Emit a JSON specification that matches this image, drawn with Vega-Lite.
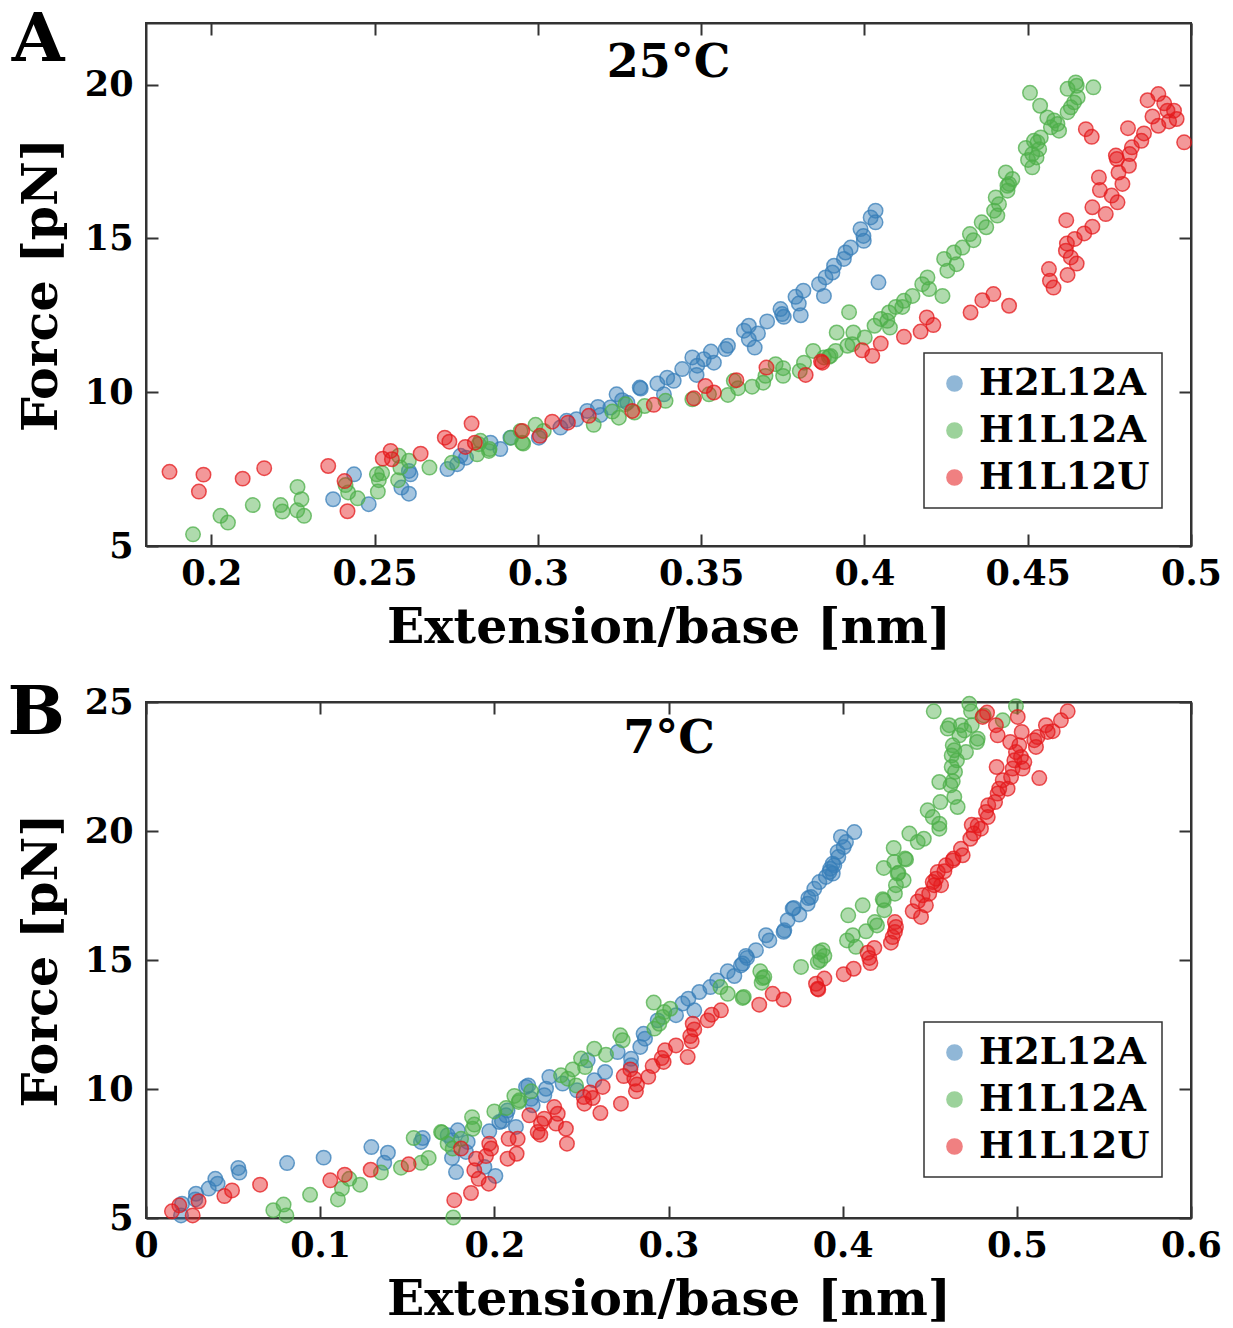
{
"$schema": "https://vega.github.io/schema/vega-lite/v6.json",
"background": "white",
"padding": {"left": 6, "top": 5, "right": 5, "bottom": 5},
"config": {
  "font": "DejaVu Serif",
  "view": {"stroke": "#333", "strokeWidth": 2},
  "axis": {"labelFont": "DejaVu Serif", "labelFontWeight": "bold", "labelFontSize": 35, "labelColor": "#000",
           "titleFont": "DejaVu Serif", "titleFontWeight": "bold", "titleFontSize": 49, "titleColor": "#000",
           "domainColor": "#333", "domainWidth": 2, "tickColor": "#333", "tickWidth": 2, "tickSize": -12,
           "grid": false, "labelFlush": false},
  "axisX": {"labelPadding": 22, "titlePadding": 12},
  "axisY": {"labelPadding": 25, "titlePadding": 18},
  "legend": {"labelFont": "DejaVu Serif", "labelFontWeight": "bold", "labelFontSize": 37, "labelColor": "#000", "labelLimit": 400,
             "strokeColor": "#333", "strokeWidth": 1.5, "fillColor": "white", "padding": 12, "rowPadding": 9,
             "symbolSize": 230, "symbolType": "circle", "symbolStrokeWidth": 1.5, "labelOffset": 6, "symbolOpacity": 0.55},
  "concat": {"spacing": 26}
},
"datasets": {
"a": [
{"s":"H2L12A","x":0.2373,"f":6.52},{"s":"H2L12A","x":0.2437,"f":7.33},{"s":"H2L12A","x":0.2482,"f":6.36},{"s":"H2L12A","x":0.2582,"f":6.90},{"s":"H2L12A","x":0.2605,"f":6.70},{"s":"H2L12A","x":0.2605,"f":7.44},{"s":"H2L12A","x":0.2610,"f":7.33},{"s":"H2L12A","x":0.2723,"f":7.50},{"s":"H2L12A","x":0.2753,"f":7.66},{"s":"H2L12A","x":0.2763,"f":7.93},{"s":"H2L12A","x":0.2780,"f":7.87},{"s":"H2L12A","x":0.2855,"f":8.36},{"s":"H2L12A","x":0.2885,"f":8.15},{"s":"H2L12A","x":0.2916,"f":8.52},{"s":"H2L12A","x":0.3003,"f":8.52},{"s":"H2L12A","x":0.3069,"f":8.85},{"s":"H2L12A","x":0.3088,"f":9.07},{"s":"H2L12A","x":0.3118,"f":9.12},{"s":"H2L12A","x":0.3151,"f":9.39},{"s":"H2L12A","x":0.3184,"f":9.52},{"s":"H2L12A","x":0.3192,"f":9.26},{"s":"H2L12A","x":0.3222,"f":9.50},{"s":"H2L12A","x":0.3241,"f":9.93},{"s":"H2L12A","x":0.3258,"f":9.74},{"s":"H2L12A","x":0.3274,"f":9.66},{"s":"H2L12A","x":0.3312,"f":10.15},{"s":"H2L12A","x":0.3315,"f":10.12},{"s":"H2L12A","x":0.3366,"f":10.28},{"s":"H2L12A","x":0.3386,"f":9.93},{"s":"H2L12A","x":0.3396,"f":10.47},{"s":"H2L12A","x":0.3416,"f":10.37},{"s":"H2L12A","x":0.3442,"f":10.75},{"s":"H2L12A","x":0.3473,"f":11.13},{"s":"H2L12A","x":0.3488,"f":10.86},{"s":"H2L12A","x":0.3486,"f":10.56},{"s":"H2L12A","x":0.3508,"f":11.07},{"s":"H2L12A","x":0.3530,"f":11.32},{"s":"H2L12A","x":0.3539,"f":10.96},{"s":"H2L12A","x":0.3575,"f":11.40},{"s":"H2L12A","x":0.3582,"f":11.51},{"s":"H2L12A","x":0.3631,"f":12.00},{"s":"H2L12A","x":0.3646,"f":12.16},{"s":"H2L12A","x":0.3646,"f":11.72},{"s":"H2L12A","x":0.3664,"f":11.45},{"s":"H2L12A","x":0.3674,"f":11.91},{"s":"H2L12A","x":0.3702,"f":12.30},{"s":"H2L12A","x":0.3743,"f":12.70},{"s":"H2L12A","x":0.3748,"f":12.54},{"s":"H2L12A","x":0.3753,"f":12.45},{"s":"H2L12A","x":0.3789,"f":13.10},{"s":"H2L12A","x":0.3799,"f":12.88},{"s":"H2L12A","x":0.3813,"f":13.30},{"s":"H2L12A","x":0.3805,"f":12.50},{"s":"H2L12A","x":0.3861,"f":13.51},{"s":"H2L12A","x":0.3876,"f":13.13},{"s":"H2L12A","x":0.3881,"f":13.73},{"s":"H2L12A","x":0.3902,"f":13.89},{"s":"H2L12A","x":0.3907,"f":14.11},{"s":"H2L12A","x":0.3937,"f":14.33},{"s":"H2L12A","x":0.3942,"f":14.54},{"s":"H2L12A","x":0.3958,"f":14.70},{"s":"H2L12A","x":0.3988,"f":15.30},{"s":"H2L12A","x":0.3998,"f":14.92},{"s":"H2L12A","x":0.3997,"f":15.08},{"s":"H2L12A","x":0.4019,"f":15.68},{"s":"H2L12A","x":0.4034,"f":15.90},{"s":"H2L12A","x":0.4034,"f":15.52},{"s":"H2L12A","x":0.4043,"f":13.57},
{"s":"H1L12A","x":0.1944,"f":5.38},{"s":"H1L12A","x":0.2028,"f":5.98},{"s":"H1L12A","x":0.2051,"f":5.76},{"s":"H1L12A","x":0.2127,"f":6.33},{"s":"H1L12A","x":0.2212,"f":6.33},{"s":"H1L12A","x":0.2218,"f":6.12},{"s":"H1L12A","x":0.2264,"f":6.92},{"s":"H1L12A","x":0.2276,"f":6.52},{"s":"H1L12A","x":0.2263,"f":6.16},{"s":"H1L12A","x":0.2284,"f":5.98},{"s":"H1L12A","x":0.2411,"f":6.98},{"s":"H1L12A","x":0.2419,"f":6.74},{"s":"H1L12A","x":0.2448,"f":6.55},{"s":"H1L12A","x":0.2507,"f":7.33},{"s":"H1L12A","x":0.2513,"f":7.14},{"s":"H1L12A","x":0.2510,"f":6.77},{"s":"H1L12A","x":0.2523,"f":7.37},{"s":"H1L12A","x":0.2574,"f":7.93},{"s":"H1L12A","x":0.2579,"f":7.55},{"s":"H1L12A","x":0.2572,"f":7.14},{"s":"H1L12A","x":0.2605,"f":7.77},{"s":"H1L12A","x":0.2668,"f":7.55},{"s":"H1L12A","x":0.2737,"f":7.71},{"s":"H1L12A","x":0.2819,"f":8.31},{"s":"H1L12A","x":0.2814,"f":7.98},{"s":"H1L12A","x":0.2852,"f":8.15},{"s":"H1L12A","x":0.2918,"f":8.52},{"s":"H1L12A","x":0.2947,"f":8.74},{"s":"H1L12A","x":0.2952,"f":8.36},{"s":"H1L12A","x":0.2824,"f":8.42},{"s":"H1L12A","x":0.2850,"f":8.09},{"s":"H1L12A","x":0.2955,"f":8.33},{"s":"H1L12A","x":0.2993,"f":8.94},{"s":"H1L12A","x":0.3018,"f":8.74},{"s":"H1L12A","x":0.3171,"f":8.94},{"s":"H1L12A","x":0.3228,"f":9.37},{"s":"H1L12A","x":0.3248,"f":9.17},{"s":"H1L12A","x":0.3268,"f":9.61},{"s":"H1L12A","x":0.3296,"f":9.34},{"s":"H1L12A","x":0.3327,"f":9.55},{"s":"H1L12A","x":0.3391,"f":9.72},{"s":"H1L12A","x":0.3473,"f":9.77},{"s":"H1L12A","x":0.3524,"f":9.93},{"s":"H1L12A","x":0.3582,"f":9.91},{"s":"H1L12A","x":0.3600,"f":10.37},{"s":"H1L12A","x":0.3613,"f":10.13},{"s":"H1L12A","x":0.3656,"f":10.18},{"s":"H1L12A","x":0.3690,"f":10.31},{"s":"H1L12A","x":0.3697,"f":10.53},{"s":"H1L12A","x":0.3728,"f":10.91},{"s":"H1L12A","x":0.3751,"f":10.53},{"s":"H1L12A","x":0.3751,"f":10.78},{"s":"H1L12A","x":0.3802,"f":10.69},{"s":"H1L12A","x":0.3815,"f":10.96},{"s":"H1L12A","x":0.3843,"f":11.34},{"s":"H1L12A","x":0.3876,"f":11.13},{"s":"H1L12A","x":0.3891,"f":11.15},{"s":"H1L12A","x":0.3896,"f":11.18},{"s":"H1L12A","x":0.3912,"f":11.34},{"s":"H1L12A","x":0.3915,"f":11.94},{"s":"H1L12A","x":0.3948,"f":11.51},{"s":"H1L12A","x":0.3953,"f":12.60},{"s":"H1L12A","x":0.3966,"f":11.94},{"s":"H1L12A","x":0.3963,"f":11.56},{"s":"H1L12A","x":0.4001,"f":11.78},{"s":"H1L12A","x":0.4031,"f":12.16},{"s":"H1L12A","x":0.4050,"f":12.38},{"s":"H1L12A","x":0.4070,"f":12.32},{"s":"H1L12A","x":0.4075,"f":12.59},{"s":"H1L12A","x":0.4078,"f":12.10},{"s":"H1L12A","x":0.4096,"f":12.77},{"s":"H1L12A","x":0.4116,"f":12.77},{"s":"H1L12A","x":0.4121,"f":12.97},{"s":"H1L12A","x":0.4147,"f":13.13},{"s":"H1L12A","x":0.4177,"f":13.51},{"s":"H1L12A","x":0.4193,"f":13.73},{"s":"H1L12A","x":0.4198,"f":13.35},{"s":"H1L12A","x":0.4239,"f":13.13},{"s":"H1L12A","x":0.4244,"f":14.33},{"s":"H1L12A","x":0.4254,"f":13.95},{"s":"H1L12A","x":0.4274,"f":14.54},{"s":"H1L12A","x":0.4282,"f":14.16},{"s":"H1L12A","x":0.4300,"f":14.70},{"s":"H1L12A","x":0.4323,"f":15.14},{"s":"H1L12A","x":0.4334,"f":14.94},{"s":"H1L12A","x":0.4359,"f":15.52},{"s":"H1L12A","x":0.4373,"f":15.36},{"s":"H1L12A","x":0.4397,"f":15.90},{"s":"H1L12A","x":0.4402,"f":16.33},{"s":"H1L12A","x":0.4407,"f":15.74},{"s":"H1L12A","x":0.4412,"f":16.11},{"s":"H1L12A","x":0.4438,"f":16.55},{"s":"H1L12A","x":0.4443,"f":16.77},{"s":"H1L12A","x":0.4433,"f":17.14},{"s":"H1L12A","x":0.4453,"f":16.93},{"s":"H1L12A","x":0.4438,"f":16.71},{"s":"H1L12A","x":0.4494,"f":17.94},{"s":"H1L12A","x":0.4501,"f":17.55},{"s":"H1L12A","x":0.4514,"f":17.74},{"s":"H1L12A","x":0.4514,"f":17.31},{"s":"H1L12A","x":0.4519,"f":18.17},{"s":"H1L12A","x":0.4527,"f":17.63},{"s":"H1L12A","x":0.4530,"f":18.12},{"s":"H1L12A","x":0.4535,"f":17.90},{"s":"H1L12A","x":0.4540,"f":18.28},{"s":"H1L12A","x":0.4507,"f":19.73},{"s":"H1L12A","x":0.4538,"f":19.31},{"s":"H1L12A","x":0.4560,"f":18.93},{"s":"H1L12A","x":0.4571,"f":18.61},{"s":"H1L12A","x":0.4581,"f":18.83},{"s":"H1L12A","x":0.4591,"f":18.72},{"s":"H1L12A","x":0.4596,"f":18.50},{"s":"H1L12A","x":0.4622,"f":19.10},{"s":"H1L12A","x":0.4632,"f":19.26},{"s":"H1L12A","x":0.4642,"f":19.42},{"s":"H1L12A","x":0.4653,"f":19.58},{"s":"H1L12A","x":0.4622,"f":19.86},{"s":"H1L12A","x":0.4647,"f":20.07},{"s":"H1L12A","x":0.4650,"f":19.96},{"s":"H1L12A","x":0.4701,"f":19.91},
{"s":"H1L12U","x":0.1872,"f":7.41},{"s":"H1L12U","x":0.1976,"f":7.32},{"s":"H1L12U","x":0.1962,"f":6.77},{"s":"H1L12U","x":0.2096,"f":7.19},{"s":"H1L12U","x":0.2162,"f":7.53},{"s":"H1L12U","x":0.2358,"f":7.60},{"s":"H1L12U","x":0.2408,"f":7.11},{"s":"H1L12U","x":0.2417,"f":6.13},{"s":"H1L12U","x":0.2525,"f":7.84},{"s":"H1L12U","x":0.2549,"f":8.09},{"s":"H1L12U","x":0.2553,"f":7.82},{"s":"H1L12U","x":0.2641,"f":8.00},{"s":"H1L12U","x":0.2715,"f":8.52},{"s":"H1L12U","x":0.2729,"f":8.39},{"s":"H1L12U","x":0.2797,"f":8.98},{"s":"H1L12U","x":0.2778,"f":8.22},{"s":"H1L12U","x":0.2807,"f":8.36},{"s":"H1L12U","x":0.2952,"f":8.74},{"s":"H1L12U","x":0.3006,"f":8.58},{"s":"H1L12U","x":0.3044,"f":9.04},{"s":"H1L12U","x":0.3092,"f":9.01},{"s":"H1L12U","x":0.3156,"f":9.23},{"s":"H1L12U","x":0.3289,"f":9.39},{"s":"H1L12U","x":0.3355,"f":9.59},{"s":"H1L12U","x":0.3478,"f":9.80},{"s":"H1L12U","x":0.3513,"f":10.20},{"s":"H1L12U","x":0.3539,"f":9.99},{"s":"H1L12U","x":0.3608,"f":10.39},{"s":"H1L12U","x":0.3700,"f":10.80},{"s":"H1L12U","x":0.3820,"f":10.56},{"s":"H1L12U","x":0.3867,"f":11.00},{"s":"H1L12U","x":0.3871,"f":10.96},{"s":"H1L12U","x":0.3993,"f":11.36},{"s":"H1L12U","x":0.4024,"f":11.18},{"s":"H1L12U","x":0.4050,"f":11.58},{"s":"H1L12U","x":0.4121,"f":11.80},{"s":"H1L12U","x":0.4172,"f":11.97},{"s":"H1L12U","x":0.4191,"f":12.43},{"s":"H1L12U","x":0.4211,"f":12.18},{"s":"H1L12U","x":0.4325,"f":12.59},{"s":"H1L12U","x":0.4361,"f":12.99},{"s":"H1L12U","x":0.4395,"f":13.19},{"s":"H1L12U","x":0.4443,"f":12.81},{"s":"H1L12U","x":0.4565,"f":14.00},{"s":"H1L12U","x":0.4568,"f":13.62},{"s":"H1L12U","x":0.4579,"f":13.40},{"s":"H1L12U","x":0.4617,"f":14.60},{"s":"H1L12U","x":0.4620,"f":14.83},{"s":"H1L12U","x":0.4618,"f":15.59},{"s":"H1L12U","x":0.4622,"f":13.81},{"s":"H1L12U","x":0.4632,"f":14.38},{"s":"H1L12U","x":0.4650,"f":14.18},{"s":"H1L12U","x":0.4644,"f":14.98},{"s":"H1L12U","x":0.4673,"f":15.16},{"s":"H1L12U","x":0.4698,"f":15.38},{"s":"H1L12U","x":0.4698,"f":16.01},{"s":"H1L12U","x":0.4739,"f":15.79},{"s":"H1L12U","x":0.4721,"f":16.57},{"s":"H1L12U","x":0.4718,"f":16.98},{"s":"H1L12U","x":0.4757,"f":16.39},{"s":"H1L12U","x":0.4775,"f":16.17},{"s":"H1L12U","x":0.4790,"f":16.77},{"s":"H1L12U","x":0.4778,"f":17.14},{"s":"H1L12U","x":0.4810,"f":17.36},{"s":"H1L12U","x":0.4770,"f":17.69},{"s":"H1L12U","x":0.4773,"f":17.58},{"s":"H1L12U","x":0.4812,"f":17.74},{"s":"H1L12U","x":0.4819,"f":17.96},{"s":"H1L12U","x":0.4848,"f":18.17},{"s":"H1L12U","x":0.4856,"f":18.41},{"s":"H1L12U","x":0.4807,"f":18.58},{"s":"H1L12U","x":0.4678,"f":18.55},{"s":"H1L12U","x":0.4696,"f":18.30},{"s":"H1L12U","x":0.4882,"f":18.96},{"s":"H1L12U","x":0.4900,"f":18.66},{"s":"H1L12U","x":0.4933,"f":18.80},{"s":"H1L12U","x":0.4956,"f":18.88},{"s":"H1L12U","x":0.4948,"f":19.15},{"s":"H1L12U","x":0.4928,"f":19.15},{"s":"H1L12U","x":0.4918,"f":19.39},{"s":"H1L12U","x":0.4867,"f":19.49},{"s":"H1L12U","x":0.4900,"f":19.69},{"s":"H1L12U","x":0.4979,"f":18.12}
],
"b": [
{"s":"H2L12A","x":0.0201,"f":5.10},{"s":"H2L12A","x":0.0207,"f":5.55},{"s":"H2L12A","x":0.0287,"f":5.94},{"s":"H2L12A","x":0.0283,"f":5.72},{"s":"H2L12A","x":0.0360,"f":6.14},{"s":"H2L12A","x":0.0398,"f":6.52},{"s":"H2L12A","x":0.0411,"f":6.33},{"s":"H2L12A","x":0.0530,"f":6.94},{"s":"H2L12A","x":0.0536,"f":6.76},{"s":"H2L12A","x":0.0810,"f":7.13},{"s":"H2L12A","x":0.1020,"f":7.34},{"s":"H2L12A","x":0.1294,"f":7.75},{"s":"H2L12A","x":0.1389,"f":7.53},{"s":"H2L12A","x":0.1368,"f":7.14},{"s":"H2L12A","x":0.1589,"f":8.10},{"s":"H2L12A","x":0.1579,"f":7.95},{"s":"H2L12A","x":0.1732,"f":8.21},{"s":"H2L12A","x":0.1757,"f":8.01},{"s":"H2L12A","x":0.1790,"f":8.40},{"s":"H2L12A","x":0.1847,"f":7.95},{"s":"H2L12A","x":0.1837,"f":7.56},{"s":"H2L12A","x":0.1757,"f":7.33},{"s":"H2L12A","x":0.1780,"f":6.78},{"s":"H2L12A","x":0.1971,"f":8.36},{"s":"H2L12A","x":0.1943,"f":6.98},{"s":"H2L12A","x":0.2006,"f":6.63},{"s":"H2L12A","x":0.2029,"f":8.72},{"s":"H2L12A","x":0.2044,"f":8.75},{"s":"H2L12A","x":0.2067,"f":8.98},{"s":"H2L12A","x":0.2076,"f":9.17},{"s":"H2L12A","x":0.2124,"f":8.53},{"s":"H2L12A","x":0.2182,"f":10.08},{"s":"H2L12A","x":0.2195,"f":10.14},{"s":"H2L12A","x":0.2211,"f":9.62},{"s":"H2L12A","x":0.2220,"f":9.37},{"s":"H2L12A","x":0.2287,"f":9.76},{"s":"H2L12A","x":0.2297,"f":10.01},{"s":"H2L12A","x":0.2316,"f":10.47},{"s":"H2L12A","x":0.2392,"f":10.21},{"s":"H2L12A","x":0.2475,"f":9.95},{"s":"H2L12A","x":0.2536,"f":11.11},{"s":"H2L12A","x":0.2574,"f":10.34},{"s":"H2L12A","x":0.2636,"f":10.66},{"s":"H2L12A","x":0.2708,"f":11.43},{"s":"H2L12A","x":0.2785,"f":11.17},{"s":"H2L12A","x":0.2785,"f":10.92},{"s":"H2L12A","x":0.2838,"f":11.63},{"s":"H2L12A","x":0.2857,"f":12.14},{"s":"H2L12A","x":0.2865,"f":11.95},{"s":"H2L12A","x":0.2938,"f":12.66},{"s":"H2L12A","x":0.3043,"f":12.86},{"s":"H2L12A","x":0.3081,"f":13.31},{"s":"H2L12A","x":0.3114,"f":13.50},{"s":"H2L12A","x":0.3148,"f":13.05},{"s":"H2L12A","x":0.3177,"f":13.76},{"s":"H2L12A","x":0.3240,"f":13.95},{"s":"H2L12A","x":0.3279,"f":14.21},{"s":"H2L12A","x":0.3340,"f":14.56},{"s":"H2L12A","x":0.3378,"f":14.38},{"s":"H2L12A","x":0.3416,"f":14.79},{"s":"H2L12A","x":0.3426,"f":14.86},{"s":"H2L12A","x":0.3445,"f":15.16},{"s":"H2L12A","x":0.3451,"f":15.08},{"s":"H2L12A","x":0.3502,"f":15.38},{"s":"H2L12A","x":0.3560,"f":15.96},{"s":"H2L12A","x":0.3579,"f":15.76},{"s":"H2L12A","x":0.3661,"f":16.09},{"s":"H2L12A","x":0.3665,"f":16.15},{"s":"H2L12A","x":0.3684,"f":16.54},{"s":"H2L12A","x":0.3751,"f":16.76},{"s":"H2L12A","x":0.3713,"f":16.99},{"s":"H2L12A","x":0.3719,"f":17.02},{"s":"H2L12A","x":0.3799,"f":17.18},{"s":"H2L12A","x":0.3803,"f":17.40},{"s":"H2L12A","x":0.3818,"f":17.44},{"s":"H2L12A","x":0.3837,"f":17.76},{"s":"H2L12A","x":0.3866,"f":18.02},{"s":"H2L12A","x":0.3904,"f":18.22},{"s":"H2L12A","x":0.3924,"f":18.41},{"s":"H2L12A","x":0.3943,"f":18.35},{"s":"H2L12A","x":0.3929,"f":18.54},{"s":"H2L12A","x":0.3952,"f":18.67},{"s":"H2L12A","x":0.3943,"f":18.73},{"s":"H2L12A","x":0.3975,"f":18.99},{"s":"H2L12A","x":0.3971,"f":19.19},{"s":"H2L12A","x":0.4006,"f":19.38},{"s":"H2L12A","x":0.4019,"f":19.57},{"s":"H2L12A","x":0.3990,"f":19.77},{"s":"H2L12A","x":0.4067,"f":19.96},
{"s":"H1L12A","x":0.0731,"f":5.30},{"s":"H1L12A","x":0.0790,"f":5.52},{"s":"H1L12A","x":0.0806,"f":5.10},{"s":"H1L12A","x":0.0942,"f":5.90},{"s":"H1L12A","x":0.1102,"f":5.72},{"s":"H1L12A","x":0.1125,"f":6.14},{"s":"H1L12A","x":0.1167,"f":6.52},{"s":"H1L12A","x":0.1229,"f":6.29},{"s":"H1L12A","x":0.1349,"f":6.76},{"s":"H1L12A","x":0.1464,"f":6.95},{"s":"H1L12A","x":0.1579,"f":7.14},{"s":"H1L12A","x":0.1623,"f":7.33},{"s":"H1L12A","x":0.1537,"f":8.10},{"s":"H1L12A","x":0.1694,"f":8.33},{"s":"H1L12A","x":0.1700,"f":8.31},{"s":"H1L12A","x":0.1732,"f":7.88},{"s":"H1L12A","x":0.1761,"f":7.69},{"s":"H1L12A","x":0.1764,"f":5.02},{"s":"H1L12A","x":0.1809,"f":8.07},{"s":"H1L12A","x":0.1872,"f":8.91},{"s":"H1L12A","x":0.1885,"f":8.62},{"s":"H1L12A","x":0.1876,"f":8.46},{"s":"H1L12A","x":0.2000,"f":9.13},{"s":"H1L12A","x":0.2067,"f":9.26},{"s":"H1L12A","x":0.2115,"f":9.73},{"s":"H1L12A","x":0.2140,"f":9.50},{"s":"H1L12A","x":0.2144,"f":9.56},{"s":"H1L12A","x":0.2211,"f":9.91},{"s":"H1L12A","x":0.2383,"f":10.53},{"s":"H1L12A","x":0.2421,"f":10.40},{"s":"H1L12A","x":0.2450,"f":10.76},{"s":"H1L12A","x":0.2469,"f":10.14},{"s":"H1L12A","x":0.2498,"f":11.18},{"s":"H1L12A","x":0.2521,"f":10.85},{"s":"H1L12A","x":0.2574,"f":11.56},{"s":"H1L12A","x":0.2641,"f":11.33},{"s":"H1L12A","x":0.2723,"f":12.08},{"s":"H1L12A","x":0.2737,"f":11.89},{"s":"H1L12A","x":0.2915,"f":13.35},{"s":"H1L12A","x":0.2919,"f":12.34},{"s":"H1L12A","x":0.2947,"f":12.53},{"s":"H1L12A","x":0.2967,"f":12.79},{"s":"H1L12A","x":0.2976,"f":12.98},{"s":"H1L12A","x":0.3010,"f":13.11},{"s":"H1L12A","x":0.3298,"f":13.95},{"s":"H1L12A","x":0.3340,"f":13.69},{"s":"H1L12A","x":0.3426,"f":13.53},{"s":"H1L12A","x":0.3432,"f":13.57},{"s":"H1L12A","x":0.3527,"f":14.56},{"s":"H1L12A","x":0.3541,"f":14.30},{"s":"H1L12A","x":0.3535,"f":14.12},{"s":"H1L12A","x":0.3550,"f":14.34},{"s":"H1L12A","x":0.3761,"f":14.73},{"s":"H1L12A","x":0.3857,"f":14.92},{"s":"H1L12A","x":0.3866,"f":15.31},{"s":"H1L12A","x":0.3872,"f":14.99},{"s":"H1L12A","x":0.3885,"f":15.38},{"s":"H1L12A","x":0.3895,"f":15.16},{"s":"H1L12A","x":0.4025,"f":15.76},{"s":"H1L12A","x":0.4032,"f":16.73},{"s":"H1L12A","x":0.4058,"f":15.96},{"s":"H1L12A","x":0.4076,"f":15.51},{"s":"H1L12A","x":0.4115,"f":17.12},{"s":"H1L12A","x":0.4134,"f":16.11},{"s":"H1L12A","x":0.4185,"f":16.47},{"s":"H1L12A","x":0.4197,"f":16.34},{"s":"H1L12A","x":0.4236,"f":17.31},{"s":"H1L12A","x":0.4239,"f":16.93},{"s":"H1L12A","x":0.4230,"f":17.35},{"s":"H1L12A","x":0.4236,"f":18.57},{"s":"H1L12A","x":0.4293,"f":19.34},{"s":"H1L12A","x":0.4297,"f":18.80},{"s":"H1L12A","x":0.4300,"f":17.57},{"s":"H1L12A","x":0.4306,"f":17.90},{"s":"H1L12A","x":0.4316,"f":18.35},{"s":"H1L12A","x":0.4320,"f":18.38},{"s":"H1L12A","x":0.4350,"f":18.09},{"s":"H1L12A","x":0.4358,"f":18.93},{"s":"H1L12A","x":0.4364,"f":18.90},{"s":"H1L12A","x":0.4383,"f":19.90},{"s":"H1L12A","x":0.4431,"f":19.57},{"s":"H1L12A","x":0.4466,"f":19.70},{"s":"H1L12A","x":0.4488,"f":20.80},{"s":"H1L12A","x":0.4517,"f":20.54},{"s":"H1L12A","x":0.4555,"f":20.28},{"s":"H1L12A","x":0.4555,"f":20.09},{"s":"H1L12A","x":0.4561,"f":21.12},{"s":"H1L12A","x":0.4641,"f":21.32},{"s":"H1L12A","x":0.4660,"f":20.93},{"s":"H1L12A","x":0.4619,"f":21.77},{"s":"H1L12A","x":0.4632,"f":21.93},{"s":"H1L12A","x":0.4555,"f":21.90},{"s":"H1L12A","x":0.4626,"f":22.48},{"s":"H1L12A","x":0.4645,"f":22.29},{"s":"H1L12A","x":0.4656,"f":22.74},{"s":"H1L12A","x":0.4626,"f":22.93},{"s":"H1L12A","x":0.4641,"f":23.13},{"s":"H1L12A","x":0.4632,"f":23.32},{"s":"H1L12A","x":0.4708,"f":23.06},{"s":"H1L12A","x":0.4771,"f":23.45},{"s":"H1L12A","x":0.4775,"f":23.58},{"s":"H1L12A","x":0.4670,"f":23.71},{"s":"H1L12A","x":0.4603,"f":23.97},{"s":"H1L12A","x":0.4612,"f":24.10},{"s":"H1L12A","x":0.4679,"f":24.10},{"s":"H1L12A","x":0.4699,"f":23.90},{"s":"H1L12A","x":0.4741,"f":24.10},{"s":"H1L12A","x":0.4523,"f":24.64},{"s":"H1L12A","x":0.4727,"f":24.93},{"s":"H1L12A","x":0.4737,"f":24.64},{"s":"H1L12A","x":0.4810,"f":24.48},{"s":"H1L12A","x":0.4919,"f":24.29},{"s":"H1L12A","x":0.4995,"f":24.84},
{"s":"H1L12U","x":0.0149,"f":5.26},{"s":"H1L12U","x":0.0191,"f":5.49},{"s":"H1L12U","x":0.0268,"f":5.10},{"s":"H1L12U","x":0.0302,"f":5.65},{"s":"H1L12U","x":0.0450,"f":5.85},{"s":"H1L12U","x":0.0494,"f":6.07},{"s":"H1L12U","x":0.0655,"f":6.29},{"s":"H1L12U","x":0.1058,"f":6.46},{"s":"H1L12U","x":0.1141,"f":6.68},{"s":"H1L12U","x":0.1290,"f":6.87},{"s":"H1L12U","x":0.1508,"f":7.08},{"s":"H1L12U","x":0.1770,"f":5.69},{"s":"H1L12U","x":0.1866,"f":5.97},{"s":"H1L12U","x":0.1809,"f":7.69},{"s":"H1L12U","x":0.1885,"f":6.85},{"s":"H1L12U","x":0.1910,"f":6.52},{"s":"H1L12U","x":0.1968,"f":6.33},{"s":"H1L12U","x":0.1971,"f":7.88},{"s":"H1L12U","x":0.1981,"f":7.69},{"s":"H1L12U","x":0.1895,"f":7.30},{"s":"H1L12U","x":0.1952,"f":7.40},{"s":"H1L12U","x":0.2082,"f":8.07},{"s":"H1L12U","x":0.2076,"f":7.30},{"s":"H1L12U","x":0.2128,"f":7.49},{"s":"H1L12U","x":0.2134,"f":8.07},{"s":"H1L12U","x":0.2201,"f":8.98},{"s":"H1L12U","x":0.2249,"f":8.33},{"s":"H1L12U","x":0.2268,"f":8.66},{"s":"H1L12U","x":0.2287,"f":8.85},{"s":"H1L12U","x":0.2264,"f":8.23},{"s":"H1L12U","x":0.2344,"f":9.30},{"s":"H1L12U","x":0.2364,"f":9.04},{"s":"H1L12U","x":0.2354,"f":8.66},{"s":"H1L12U","x":0.2411,"f":8.46},{"s":"H1L12U","x":0.2417,"f":7.88},{"s":"H1L12U","x":0.2513,"f":9.69},{"s":"H1L12U","x":0.2517,"f":9.43},{"s":"H1L12U","x":0.2551,"f":9.86},{"s":"H1L12U","x":0.2565,"f":9.65},{"s":"H1L12U","x":0.2622,"f":10.08},{"s":"H1L12U","x":0.2609,"f":9.07},{"s":"H1L12U","x":0.2727,"f":9.43},{"s":"H1L12U","x":0.2743,"f":10.50},{"s":"H1L12U","x":0.2781,"f":10.76},{"s":"H1L12U","x":0.2804,"f":10.40},{"s":"H1L12U","x":0.2819,"f":10.17},{"s":"H1L12U","x":0.2813,"f":9.91},{"s":"H1L12U","x":0.2884,"f":10.47},{"s":"H1L12U","x":0.2909,"f":10.89},{"s":"H1L12U","x":0.2961,"f":11.20},{"s":"H1L12U","x":0.2972,"f":11.05},{"s":"H1L12U","x":0.2980,"f":11.50},{"s":"H1L12U","x":0.3043,"f":11.69},{"s":"H1L12U","x":0.3110,"f":11.24},{"s":"H1L12U","x":0.3125,"f":12.05},{"s":"H1L12U","x":0.3133,"f":11.85},{"s":"H1L12U","x":0.3139,"f":12.53},{"s":"H1L12U","x":0.3148,"f":12.31},{"s":"H1L12U","x":0.3225,"f":12.66},{"s":"H1L12U","x":0.3248,"f":12.88},{"s":"H1L12U","x":0.3301,"f":13.05},{"s":"H1L12U","x":0.3521,"f":13.27},{"s":"H1L12U","x":0.3598,"f":13.69},{"s":"H1L12U","x":0.3661,"f":13.47},{"s":"H1L12U","x":0.3847,"f":14.08},{"s":"H1L12U","x":0.3857,"f":13.89},{"s":"H1L12U","x":0.3860,"f":13.86},{"s":"H1L12U","x":0.3895,"f":14.28},{"s":"H1L12U","x":0.4006,"f":14.45},{"s":"H1L12U","x":0.4063,"f":14.66},{"s":"H1L12U","x":0.4143,"f":15.28},{"s":"H1L12U","x":0.4153,"f":15.08},{"s":"H1L12U","x":0.4159,"f":14.88},{"s":"H1L12U","x":0.4182,"f":15.47},{"s":"H1L12U","x":0.4277,"f":15.67},{"s":"H1L12U","x":0.4287,"f":15.89},{"s":"H1L12U","x":0.4300,"f":16.09},{"s":"H1L12U","x":0.4306,"f":16.28},{"s":"H1L12U","x":0.4300,"f":16.47},{"s":"H1L12U","x":0.4402,"f":16.89},{"s":"H1L12U","x":0.4450,"f":16.67},{"s":"H1L12U","x":0.4478,"f":17.12},{"s":"H1L12U","x":0.4431,"f":17.27},{"s":"H1L12U","x":0.4459,"f":17.51},{"s":"H1L12U","x":0.4497,"f":17.57},{"s":"H1L12U","x":0.4526,"f":17.90},{"s":"H1L12U","x":0.4565,"f":17.90},{"s":"H1L12U","x":0.4536,"f":18.15},{"s":"H1L12U","x":0.4584,"f":18.44},{"s":"H1L12U","x":0.4593,"f":18.67},{"s":"H1L12U","x":0.4632,"f":18.86},{"s":"H1L12U","x":0.4689,"f":19.06},{"s":"H1L12U","x":0.4517,"f":18.02},{"s":"H1L12U","x":0.4546,"f":18.41},{"s":"H1L12U","x":0.4637,"f":18.93},{"s":"H1L12U","x":0.4679,"f":19.31},{"s":"H1L12U","x":0.4733,"f":19.70},{"s":"H1L12U","x":0.4752,"f":19.90},{"s":"H1L12U","x":0.4775,"f":20.22},{"s":"H1L12U","x":0.4794,"f":20.09},{"s":"H1L12U","x":0.4741,"f":20.24},{"s":"H1L12U","x":0.4833,"f":20.54},{"s":"H1L12U","x":0.4823,"f":20.74},{"s":"H1L12U","x":0.4836,"f":21.00},{"s":"H1L12U","x":0.4875,"f":21.12},{"s":"H1L12U","x":0.4890,"f":21.45},{"s":"H1L12U","x":0.4899,"f":21.64},{"s":"H1L12U","x":0.4947,"f":21.64},{"s":"H1L12U","x":0.4919,"f":21.97},{"s":"H1L12U","x":0.4967,"f":22.09},{"s":"H1L12U","x":0.5129,"f":22.05},{"s":"H1L12U","x":0.4884,"f":22.48},{"s":"H1L12U","x":0.4976,"f":22.42},{"s":"H1L12U","x":0.5033,"f":22.42},{"s":"H1L12U","x":0.5043,"f":22.67},{"s":"H1L12U","x":0.5024,"f":22.87},{"s":"H1L12U","x":0.4995,"f":23.06},{"s":"H1L12U","x":0.4986,"f":22.74},{"s":"H1L12U","x":0.5014,"f":23.32},{"s":"H1L12U","x":0.4962,"f":23.45},{"s":"H1L12U","x":0.5110,"f":23.26},{"s":"H1L12U","x":0.5100,"f":23.52},{"s":"H1L12U","x":0.5119,"f":23.64},{"s":"H1L12U","x":0.5177,"f":23.84},{"s":"H1L12U","x":0.5206,"f":23.87},{"s":"H1L12U","x":0.5167,"f":24.10},{"s":"H1L12U","x":0.5253,"f":24.29},{"s":"H1L12U","x":0.5292,"f":24.64},{"s":"H1L12U","x":0.4890,"f":23.71},{"s":"H1L12U","x":0.4880,"f":24.10},{"s":"H1L12U","x":0.5028,"f":23.84},{"s":"H1L12U","x":0.5005,"f":24.42},{"s":"H1L12U","x":0.4829,"f":24.59},{"s":"H1L12U","x":0.4804,"f":24.42}
]
},
"vconcat": [
{
  "width": 1045, "height": 523,
  "data": {"name": "a"},
  "layer": [
    {
      "mark": {"type": "circle", "size": 210, "fillOpacity": 0.45, "strokeOpacity": 0.75, "strokeWidth": 1.5},
      "encoding": {
        "x": {"field": "x", "type": "quantitative", "scale": {"domain": [0.18, 0.5], "nice": false, "zero": false},
              "axis": {"values": [0.2,0.25,0.3,0.35,0.4,0.45,0.5], "format": ".2~f", "title": "Extension/base [nm]"}},
        "y": {"field": "f", "type": "quantitative", "scale": {"domain": [5, 22], "nice": false, "zero": false},
              "axis": {"values": [5,10,15,20], "title": "Force [pN]"}},
        "color": {"field": "s", "type": "nominal", "sort": null,
                  "scale": {"domain": ["H2L12A","H1L12A","H1L12U"], "range": ["#377eb8","#4daf4a","#e41a1c"]},
                  "legend": {"title": null, "orient": "none", "legendX": 778, "legendY": 330}},
        "stroke": {"field": "s", "type": "nominal", "sort": null,
                  "scale": {"domain": ["H2L12A","H1L12A","H1L12U"], "range": ["#377eb8","#4daf4a","#e41a1c"]},
                  "legend": {"title": null, "orient": "none", "legendX": 778, "legendY": 330}}
      }
    },
    {
      "data": {"values": [{"t": "25°C"}]},
      "mark": {"type": "text", "fontSize": 46, "fontWeight": "bold", "font": "DejaVu Serif", "baseline": "middle", "align": "center", "color": "#000"},
      "encoding": {"text": {"field": "t"}, "x": {"datum": 0.34, "type": "quantitative", "axis": null}, "y": {"datum": 20.71, "type": "quantitative", "axis": null}}
    },
    {
      "data": {"values": [{"t": "A"}]},
      "mark": {"type": "text", "fontSize": 68, "fontWeight": "bold", "font": "DejaVu Serif", "baseline": "middle", "align": "center", "color": "#000"},
      "encoding": {"text": {"field": "t"}, "x": {"datum": 0.147, "type": "quantitative", "axis": null}, "y": {"datum": 21.43, "type": "quantitative", "axis": null}}
    },
    {
      "mark": {"type": "point", "opacity": 0},
      "encoding": {
        "x": {"field": "x", "type": "quantitative", "axis": {"orient": "top", "values": [0.2,0.25,0.3,0.35,0.4,0.45,0.5], "labels": false, "title": null}},
        "y": {"field": "f", "type": "quantitative", "axis": {"orient": "right", "values": [5,10,15,20], "labels": false, "title": null}}
      }
    }
  ],
  "resolve": {"axis": {"x": "independent", "y": "independent"}}
},
{
  "width": 1045, "height": 516,
  "data": {"name": "b"},
  "layer": [
    {
      "mark": {"type": "circle", "size": 210, "fillOpacity": 0.45, "strokeOpacity": 0.75, "strokeWidth": 1.5},
      "encoding": {
        "x": {"field": "x", "type": "quantitative", "scale": {"domain": [0, 0.6], "nice": false, "zero": false},
              "axis": {"values": [0,0.1,0.2,0.3,0.4,0.5,0.6], "format": ".1~f", "title": "Extension/base [nm]"}},
        "y": {"field": "f", "type": "quantitative", "scale": {"domain": [5, 25], "nice": false, "zero": false},
              "axis": {"values": [5,10,15,20,25], "title": "Force [pN]"}},
        "color": {"field": "s", "type": "nominal", "sort": null,
                  "scale": {"domain": ["H2L12A","H1L12A","H1L12U"], "range": ["#377eb8","#4daf4a","#e41a1c"]},
                  "legend": {"title": null, "orient": "none", "legendX": 778, "legendY": 320}},
        "stroke": {"field": "s", "type": "nominal", "sort": null,
                  "scale": {"domain": ["H2L12A","H1L12A","H1L12U"], "range": ["#377eb8","#4daf4a","#e41a1c"]},
                  "legend": {"title": null, "orient": "none", "legendX": 778, "legendY": 320}}
      }
    },
    {
      "data": {"values": [{"t": "7°C"}]},
      "mark": {"type": "text", "fontSize": 46, "fontWeight": "bold", "font": "DejaVu Serif", "baseline": "middle", "align": "center", "color": "#000"},
      "encoding": {"text": {"field": "t"}, "x": {"datum": 0.3003, "type": "quantitative", "axis": null}, "y": {"datum": 23.57, "type": "quantitative", "axis": null}}
    },
    {
      "data": {"values": [{"t": "B"}]},
      "mark": {"type": "text", "fontSize": 68, "fontWeight": "bold", "font": "DejaVu Serif", "baseline": "middle", "align": "center", "color": "#000"},
      "encoding": {"text": {"field": "t"}, "x": {"datum": -0.063, "type": "quantitative", "axis": null}, "y": {"datum": 24.53, "type": "quantitative", "axis": null}}
    },
    {
      "mark": {"type": "point", "opacity": 0},
      "encoding": {
        "x": {"field": "x", "type": "quantitative", "axis": {"orient": "top", "values": [0,0.1,0.2,0.3,0.4,0.5,0.6], "labels": false, "title": null}},
        "y": {"field": "f", "type": "quantitative", "axis": {"orient": "right", "values": [5,10,15,20,25], "labels": false, "title": null}}
      }
    }
  ],
  "resolve": {"axis": {"x": "independent", "y": "independent"}}
}
],
"resolve": {"legend": {"color": "independent", "stroke": "independent"}}
}
